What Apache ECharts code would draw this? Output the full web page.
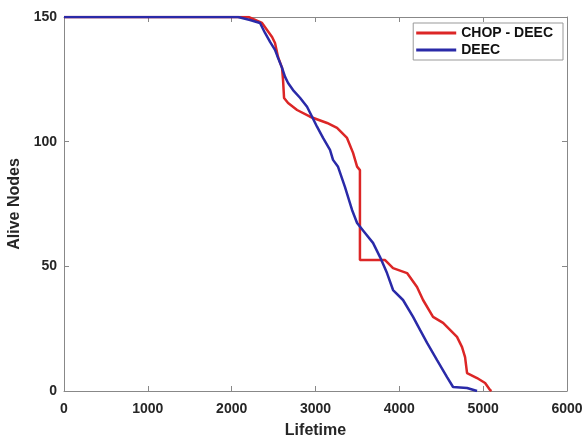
<!DOCTYPE html>
<html><head><meta charset="utf-8">
<script src="https://cdn.jsdelivr.net/npm/echarts@6/dist/echarts.min.js"></script>
<style>html,body{margin:0;padding:0;background:#fff}#c{width:586px;height:438px}</style>
</head><body><div id="c"></div>
<script>
var seriesNames = ['CHOP - DEEC', 'DEEC'];
var xTicks = [0, 1000, 2000, 3000, 4000, 5000, 6000];
var yTicks = [0, 50, 100, 150];
var chopLifetime = [0, 2200, 2362, 2482, 2517, 2553, 2601, 2613, 2625, 2673, 2780, 2935, 3138, 3257, 3376, 3448, 3496, 3530, 3530, 3830, 3925, 4092, 4211, 4283, 4402, 4522, 4688, 4748, 4784, 4808, 4927, 5023, 5082, 5100];
var chopAlive    = [150, 150, 147.6, 142, 139.6, 134, 129.6, 124.7, 117.5, 115.5, 112.7, 110, 107.5, 105.5, 101.5, 95.5, 90, 88.6, 52.5, 52.5, 49.3, 47.3, 41.7, 36.5, 29.7, 27.3, 21.7, 17.6, 13.6, 7.2, 5.2, 3.2, 0.4, 0];
var deecLifetime = [0, 2076, 2219, 2338, 2398, 2458, 2517, 2553, 2601, 2637, 2673, 2732, 2815, 2899, 2959, 3018, 3090, 3173, 3209, 3269, 3352, 3436, 3496, 3591, 3686, 3770, 3853, 3925, 4044, 4164, 4247, 4331, 4450, 4569, 4641, 4808, 4927];
var deecAlive    = [150, 150, 148.8, 147.6, 143.6, 140, 136.8, 133.6, 129.6, 126, 123.5, 120.7, 117.6, 114, 110, 106, 101.5, 96.7, 92.7, 89.9, 81.8, 72.6, 67.4, 63.4, 59.4, 53.7, 47.3, 40.5, 36.5, 29.7, 24.5, 19.3, 12.4, 5.6, 1.6, 1.2, 0];

function pairs(xs, ys){ return xs.map(function(x,i){return [x, ys[i]];}); }

var font = 'Liberation Sans, Arial, sans-serif';
var labelStyle = {color:'#262626', fontSize:14, fontWeight:'bold', fontFamily:font, formatter:function(v){return String(v);}};
var chart = echarts.init(document.getElementById('c'));
chart.setOption({
  animation:false,
  grid:{left:64, right:19, top:17, bottom:47, containLabel:false, outerBoundsMode:'none'},
  legend:{
    data:seriesNames, orient:'vertical', right:23, top:23,
    backgroundColor:'#fff', borderColor:'#999', borderWidth:1,
    padding:[3,10,3,3], itemGap:3, itemWidth:40, itemHeight:3,
    icon:'rect',
    textStyle:{color:'#111', fontSize:14, fontWeight:'bold', fontFamily:font}
  },
  xAxis:[{
    type:'value', min:xTicks[0], max:xTicks[xTicks.length-1], interval:1000,
    name:'Lifetime', nameLocation:'middle', nameGap:32,
    nameTextStyle:{color:'#262626', fontSize:16, fontWeight:'bold', fontFamily:font},
    axisLine:{show:true, onZero:false, lineStyle:{color:'#888'}},
    axisTick:{show:true, inside:true, length:5, lineStyle:{color:'#888'}},
    axisLabel:Object.assign({margin:11}, labelStyle),
    splitLine:{show:false}
  },{
    type:'value', position:'top', min:xTicks[0], max:xTicks[xTicks.length-1], interval:1000,
    axisLine:{show:true, onZero:false, lineStyle:{color:'#888'}},
    axisTick:{show:true, inside:true, length:5, lineStyle:{color:'#888'}},
    axisLabel:{show:false}, splitLine:{show:false}
  }],
  yAxis:[{
    type:'value', min:yTicks[0], max:yTicks[yTicks.length-1], interval:50,
    name:'Alive Nodes', nameLocation:'middle', nameGap:32,
    nameTextStyle:{color:'#262626', fontSize:16, fontWeight:'bold', fontFamily:font},
    axisLine:{show:true, onZero:false, lineStyle:{color:'#888'}},
    axisTick:{show:true, inside:true, length:5, lineStyle:{color:'#888'}},
    axisLabel:Object.assign({margin:7}, labelStyle),
    splitLine:{show:false}
  },{
    type:'value', position:'right', min:yTicks[0], max:yTicks[yTicks.length-1], interval:50,
    axisLine:{show:true, onZero:false, lineStyle:{color:'#888'}},
    axisTick:{show:true, inside:true, length:5, lineStyle:{color:'#888'}},
    axisLabel:{show:false}, splitLine:{show:false}
  }],
  series:[{
    name:seriesNames[0], type:'line', showSymbol:false, symbol:'none',
    data:pairs(chopLifetime, chopAlive),
    lineStyle:{color:'#dc2626', width:2.5}, itemStyle:{color:'#dc2626'}
  },{
    name:seriesNames[1], type:'line', showSymbol:false, symbol:'none',
    data:pairs(deecLifetime, deecAlive),
    lineStyle:{color:'#2a2aa8', width:2.5}, itemStyle:{color:'#2a2aa8'}
  }]
});
</script></body></html>
